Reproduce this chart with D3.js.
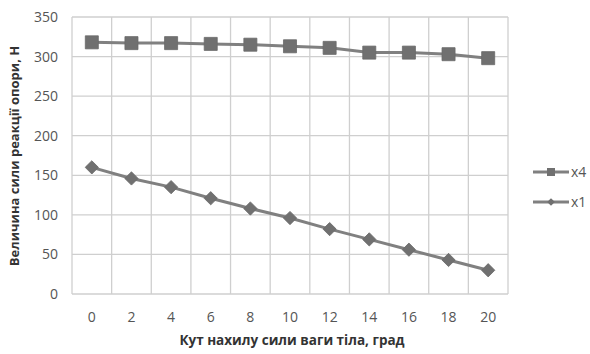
<!DOCTYPE html>
<html><head><meta charset="utf-8">
<script src="https://cdn.jsdelivr.net/npm/d3@7"></script>
<style>body{margin:0;background:#fff}svg{display:block}</style>
</head><body>
<svg id="c" width="590" height="354"></svg>
<script>
const categories = [0,2,4,6,8,10,12,14,16,18,20];
const seriesX4 = [318,317,317,316,315,313,311,305,305,303,298];
const seriesX1 = [160,146,135,121,108,96,82,69,56,43,30];
const yTicks = [0,50,100,150,200,250,300,350];
const seriesNames = ["x4","x1"];
const xTitle = "Кут нахилу сили ваги тіла, град";
const yTitle = "Величина сили реакції опори, Н";

const svg = d3.select("#c");
const m = {l:72, r:508, t:17, b:294};
const x = d3.scaleBand().domain(categories).range([m.l, m.r]);
const y = d3.scaleLinear().domain([0,350]).range([m.b, m.t]);
const font = "'Open Sans', 'Liberation Sans', sans-serif";
const grid = "#cfcfcf", txt = "#555", lineC = "#808080", markC = "#707070";

svg.append("g").selectAll("line").data(yTicks).join("line")
  .attr("x1", m.l).attr("x2", m.r).attr("y1", d=>y(d)).attr("y2", d=>y(d))
  .attr("stroke", grid).attr("stroke-width", 1.3);
const edges = categories.map(c=>x(c)).concat([m.r]);
svg.append("g").selectAll("line").data(edges).join("line")
  .attr("x1", d=>d).attr("x2", d=>d).attr("y1", m.t).attr("y2", m.b)
  .attr("stroke", grid).attr("stroke-width", 1.3);

const yAxis = svg.append("g").attr("transform", `translate(${m.l},0)`)
  .call(d3.axisLeft(y).tickValues(yTicks).tickSize(0).tickPadding(14));
const xAxis = svg.append("g").attr("transform", `translate(0,${m.b})`)
  .call(d3.axisBottom(x).tickSize(0).tickPadding(18));
[yAxis, xAxis].forEach(a=>{
  a.select(".domain").remove();
  a.selectAll("text").attr("fill", txt).style("font-family", font).style("font-size","14px");
});

const cx = d => x(d) + x.bandwidth()/2;
const line = d3.line().x((d,i)=>cx(categories[i])).y(d=>y(d));

function drawSeries(vals, rot, size){
  svg.append("path").datum(vals).attr("d", line)
    .attr("fill","none").attr("stroke", lineC).attr("stroke-width", 3);
  svg.append("g").selectAll("path").data(vals).join("path")
    .attr("transform",(d,i)=>`translate(${cx(categories[i])},${y(d)}) rotate(${rot})`)
    .attr("d", d3.symbol().type(d3.symbolSquare).size(size))
    .attr("fill", markC).attr("stroke", "#6a6a6a").attr("stroke-width", 0.8);
}
drawSeries(seriesX4, 0, 170);
drawSeries(seriesX1, 45, 88);

const leg = [{name:seriesNames[0], rot:0, size:64, y:172},
             {name:seriesNames[1], rot:45, size:30, y:202}];
leg.forEach(l=>{
  svg.append("line").attr("x1",533).attr("x2",569).attr("y1",l.y).attr("y2",l.y)
    .attr("stroke", lineC).attr("stroke-width",3);
  svg.append("path").attr("transform",`translate(551,${l.y}) rotate(${l.rot})`)
    .attr("d", d3.symbol().type(d3.symbolSquare).size(l.size)).attr("fill", markC);
  svg.append("text").attr("x",571).attr("y",l.y).attr("dy","0.35em")
    .attr("fill", txt).style("font-family", font).style("font-size","14px").text(l.name);
});

svg.append("text").attr("x", 292).attr("y", 345).attr("text-anchor","middle")
  .attr("fill","#333").style("font-family", font).style("font-size","13.5px").style("font-weight","bold")
  .text(xTitle);
svg.append("text").attr("transform","translate(19,156) rotate(-90)").attr("text-anchor","middle")
  .attr("fill","#333").style("font-family", font).style("font-size","13px").style("font-weight","bold")
  .text(yTitle);
</script>
</body></html>
